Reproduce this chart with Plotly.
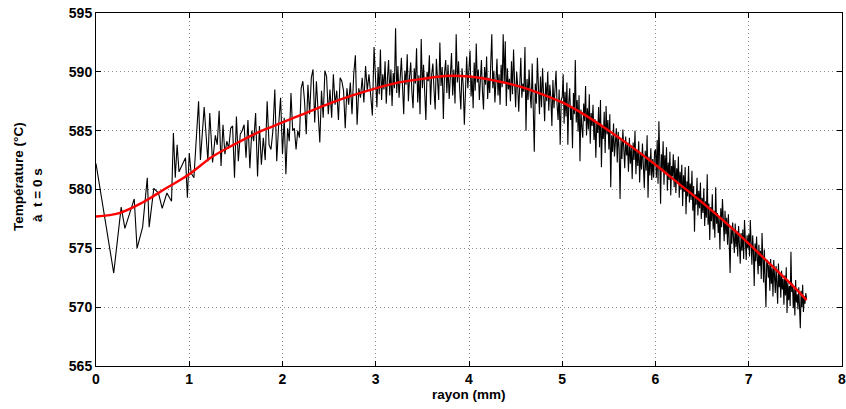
import numpy as np
import plotly.graph_objects as go

# ---- measured profile (black) ----
# sparse inner region: radii (mm) and temperatures (°C) read individually
r_inner = [0.0, 0.19, 0.27, 0.31, 0.41, 0.44, 0.50, 0.55, 0.57, 0.62, 0.67, 0.71, 0.76,
           0.81, 0.83, 0.85, 0.87, 0.89, 0.96, 0.98, 1.00, 1.02, 1.05, 1.10, 1.12, 1.16,
           1.20, 1.22, 1.25, 1.28]
t_inner = [582.2, 572.9, 578.5, 576.7, 579.2, 575.0, 576.8, 581.0, 576.8, 580.1, 579.7, 578.4, 579.7,
           579.0, 584.8, 581.0, 583.8, 581.5, 582.7, 579.3, 583.1, 581.4, 581.0, 587.5, 582.5, 587.0,
           582.4, 586.5, 582.3, 584.6]

# denser outer region: temperatures in successive radial bands (evenly spaced within a band)
band_edges = [1.30, 2.0, 3.0, 4.0, 5.0, 6.0, 7.0, 7.62]

t_band_1 = [583.8, 586.7, 582.0, 585.5, 583.0, 584.1, 583.5, 585.2, 585.4, 581.0, 586.2, 582.4,
            584.7, 585.0, 585.5, 582.7, 585.9, 581.8, 585.0, 584.1, 586.5, 581.1, 585.4, 582.1,
            584.4, 582.5, 587.5, 583.8, 583.4, 585.0, 588.5, 582.4, 585.5, 587.8]
t_band_2 = [583.0, 586.1, 581.3, 585.2, 584.1, 588.2, 585.0, 585.2, 583.4, 585.0, 584.4, 588.6,
            589.2, 587.5, 584.7, 588.9, 586.4, 589.5, 590.2, 585.7, 589.2, 586.9, 584.0, 588.4,
            586.1, 590.1, 589.6, 586.4, 588.5, 586.1, 589.8, 587.2, 588.4, 585.9, 589.5, 589.2,
            588.4, 585.2, 588.6, 587.2, 589.1, 586.4, 589.8, 591.4, 585.5, 588.6, 587.8, 589.5,
            587.4, 590.5, 588.4, 589.8, 587.8, 586.3, 592.1]
t_band_3 = [589.2, 587.0, 590.4, 588.1, 591.9, 587.6, 589.8, 588.5, 590.9, 587.3, 589.4, 591.0,
            588.0, 590.2, 587.1, 589.9, 588.6, 593.7, 588.2, 590.5, 587.8, 589.3, 591.2, 588.7,
            586.4, 590.1, 588.9, 591.5, 587.5, 589.6, 590.8, 588.3, 586.9, 590.3, 589.0, 592.0,
            587.4, 589.7, 586.4, 592.8, 588.6, 590.6, 587.9, 585.9, 590.0, 589.2, 591.4, 587.2,
            589.8, 590.7, 588.4, 586.8, 591.1, 589.5, 587.6, 592.5, 588.8, 590.4, 586.0, 589.9,
            591.0, 588.2, 590.6, 587.7, 589.4, 591.6, 588.0, 590.2, 587.3, 593.2, 589.1, 590.9,
            588.5, 586.8, 590.3, 588.9, 585.5, 589.7, 591.3, 588.6]
t_band_4 = [590.5, 591.8, 587.9, 589.6, 586.9, 590.8, 588.4, 592.4, 589.1, 590.2, 587.6, 589.9,
            591.0, 588.3, 586.8, 590.4, 588.9, 591.3, 587.7, 589.5, 588.2, 590.7, 593.2, 588.6,
            590.1, 587.4, 589.3, 591.1, 588.0, 589.8, 587.2, 590.6, 588.7, 593.2, 589.0, 592.6,
            587.1, 590.3, 588.5, 589.4, 587.5, 590.9, 588.1, 591.9, 589.2, 587.0, 590.0, 588.8,
            586.6, 589.7, 591.2, 587.8, 589.0, 588.3, 592.1, 585.0, 589.4, 587.6, 590.2, 588.1,
            586.9, 590.7, 587.9, 583.2, 589.0, 587.3, 591.2, 588.4, 586.4, 589.6, 587.0, 590.3,
            588.6, 585.8, 589.1, 587.5, 590.0, 586.7, 588.9, 587.8, 585.4, 589.3, 586.9, 588.7,
            590.1, 587.2, 585.9, 588.5, 583.8, 587.6]
t_band_5 = [587.9, 589.8, 585.6, 588.3, 586.2, 589.1, 583.8, 587.4, 588.6, 585.9, 587.0, 583.5,
            588.2, 586.4, 591.0, 585.7, 587.6, 584.9, 588.0, 582.4, 586.8, 585.3, 584.4, 587.3,
            585.8, 588.8, 584.6, 586.9, 585.1, 588.1, 583.9, 586.5, 585.4, 587.2, 584.2, 586.0,
            582.7, 585.7, 584.8, 587.0, 583.6, 587.6, 581.9, 585.4, 584.3, 586.6, 583.1, 587.1,
            584.7, 585.9, 583.4, 586.4, 580.2, 584.6, 583.2, 585.6, 582.8, 584.0, 585.2, 582.3,
            584.9, 583.5, 579.2, 584.2, 582.6, 585.1, 583.0, 581.8, 584.5, 582.9, 583.8, 581.5,
            584.4, 582.2, 583.6, 580.9, 584.0, 582.5, 585.0, 581.3, 583.4, 582.0, 584.1, 580.6,
            583.1, 581.7, 583.9, 582.4, 580.1, 583.3, 581.6, 584.6, 579.3, 582.8, 581.2, 583.5,
            580.8, 582.6, 581.0, 583.2]
t_band_6 = [583.4, 581.0, 584.2, 580.5, 585.8, 582.6, 578.8, 583.0, 581.7, 584.1, 580.4, 582.9,
            581.3, 583.6, 579.9, 582.3, 580.8, 583.2, 579.5, 582.0, 581.1, 583.0, 580.2, 582.5,
            579.7, 581.8, 580.6, 582.8, 579.3, 581.5, 580.0, 582.1, 578.6, 581.2, 579.8, 581.9,
            577.9, 580.7, 579.4, 582.0, 578.9, 580.5, 579.1, 581.6, 578.2, 580.3, 576.4, 579.6,
            578.7, 581.0, 577.8, 579.9, 578.4, 580.6, 577.5, 579.3, 578.0, 580.1, 576.9, 579.0,
            577.6, 581.3, 577.0, 578.8, 575.7, 578.5, 577.3, 579.6, 576.6, 578.2, 575.9, 580.2,
            577.1, 578.0, 576.3, 577.7, 574.9, 578.4, 576.8, 579.2, 577.4, 575.6, 578.2, 576.2,
            577.6, 575.3, 577.9, 576.0, 572.9, 576.7, 575.4, 577.2, 575.8, 574.6, 577.1, 575.1,
            576.5, 574.3, 576.9, 575.5, 573.7, 576.3, 574.8, 576.6, 574.1, 577.4, 575.2, 574.0,
            576.1, 575.0]
t_band_7 = [576.2, 574.3, 577.4, 575.0, 573.6, 576.1, 574.7, 571.8, 575.4, 573.9, 576.0, 574.2,
            572.8, 575.3, 573.5, 574.8, 572.4, 576.3, 573.8, 572.1, 574.9, 573.2, 570.0, 573.9,
            574.0, 572.5, 573.6, 571.4, 574.1, 572.0, 573.3, 570.9, 574.0, 572.6, 571.2, 573.5,
            572.2, 570.3, 573.7, 571.7, 572.9, 570.8, 573.1, 571.5, 572.4, 570.2, 572.7, 571.0,
            573.4, 569.5, 572.1, 570.6, 571.8, 570.1, 574.7, 571.3, 572.0, 569.9, 571.6, 569.3,
            572.3, 570.4, 571.1, 569.8, 571.7, 570.5, 568.2, 571.4, 570.0, 571.9, 569.6, 570.9,
            570.3, 571.2, 570.7]

# ---- smoothed fit (red) ----
r_fit = [0.0, 0.25, 0.5, 0.75, 1.0, 1.25, 1.5, 1.75, 2.0, 2.25, 2.5, 2.75, 3.0, 3.25, 3.5,
         3.75, 4.0, 4.25, 4.5, 4.75, 5.0, 5.25, 5.5, 5.75, 6.0, 6.25, 6.5, 6.75, 7.0, 7.25,
         7.5, 7.62]
t_fit = [577.7, 578.0, 578.9, 580.1, 581.3, 582.8, 583.9, 584.9, 585.7, 586.5, 587.3, 588.0,
         588.6, 589.1, 589.4, 589.65, 589.6, 589.3, 588.85, 588.2, 587.4, 586.3, 585.0, 583.6,
         582.1, 580.5, 578.9, 577.2, 575.4, 573.5, 571.6, 570.6]

x_ticks = [0, 1, 2, 3, 4, 5, 6, 7, 8]
y_ticks = [565, 570, 575, 580, 585, 590, 595]

# assemble radii for the banded region
bands = [t_band_1, t_band_2, t_band_3, t_band_4, t_band_5, t_band_6, t_band_7]
r_all = list(r_inner)
t_all = list(t_inner)
for i, tb in enumerate(bands):
    last = i == len(bands) - 1
    rr = np.linspace(band_edges[i], band_edges[i + 1], len(tb), endpoint=last)
    r_all.extend(rr.tolist())
    t_all.extend(tb)

FONT = "Liberation Sans, Arial, Helvetica"

fig = go.Figure()
fig.add_trace(go.Scatter(x=r_all, y=t_all, mode="lines",
                         line=dict(color="black", width=1.1), hoverinfo="skip"))
fig.add_trace(go.Scatter(x=r_fit, y=t_fit, mode="lines",
                         line=dict(color="#ff0000", width=2.4, shape="spline")))

axis_common = dict(showline=True, linecolor="black", linewidth=1, mirror="ticks",
                   ticks="inside", ticklen=5, tickcolor="black",
                   showgrid=True, gridcolor="#8c8c8c", griddash="1px,3px", gridwidth=1,
                   zeroline=False, automargin=False, ticklabeloverflow="allow",
                   tickfont=dict(family=FONT, size=14, color="black", weight="bold"))

fig.update_xaxes(range=[0, 8], tickvals=x_ticks, ticktext=[str(v) for v in x_ticks],
                 **axis_common)
fig.update_yaxes(range=[565, 595], tickvals=y_ticks, ticktext=[str(v) for v in y_ticks],
                 **axis_common)

# plot area at x 96..842 and y 13..366 of the 846x409 page
PLOT_W, PLOT_H = 746, 353
title_font = dict(family=FONT, size=13.5, color="black", weight="bold")
fig.add_annotation(text="rayon (mm)", xref="paper", yref="paper",
                   x=0.5, y=-28.5 / PLOT_H, xanchor="center", yanchor="middle",
                   showarrow=False, font=title_font)
fig.add_annotation(text="Température (°C)", xref="paper", yref="paper",
                   x=(18 - 96) / PLOT_W, y=(366 - 177) / PLOT_H, xanchor="center", yanchor="middle",
                   textangle=-90, showarrow=False, font=title_font)
fig.add_annotation(text="à  t = 0 s", xref="paper", yref="paper",
                   x=(37 - 96) / PLOT_W, y=(366 - 195) / PLOT_H, xanchor="center", yanchor="middle",
                   textangle=-90, showarrow=False, font=title_font)

fig.update_layout(width=846, height=409, margin=dict(l=96, r=4, t=13, b=43),
                  paper_bgcolor="white", plot_bgcolor="white", showlegend=False)

# remove the browser's default 8px body margin so the figure fills the window exactly
fig.write_html("out.html", config={"displayModeBar": False},
               post_script="document.body.style.margin='0';document.body.style.overflow='hidden';")
